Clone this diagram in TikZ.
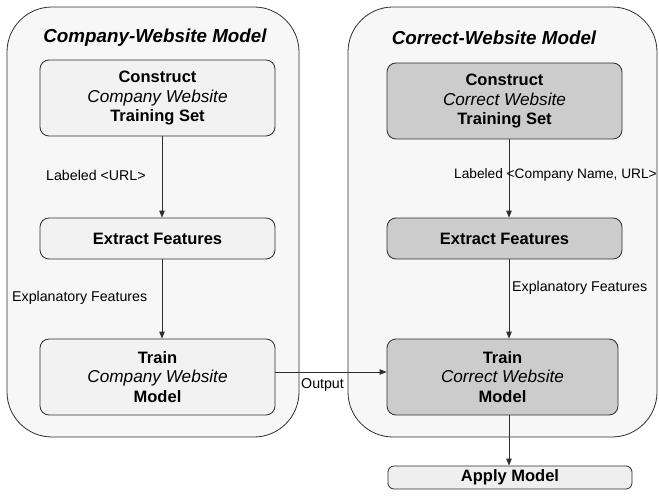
\documentclass[tikz,border=0pt]{standalone}
\usepackage{fontspec}
\setmainfont{Liberation Sans}
\usetikzlibrary{arrows.meta}
\definecolor{linec}{HTML}{2E2E2E}
\definecolor{contfill}{HTML}{F7F7F7}
\definecolor{lightbox}{HTML}{F2F2F2}
\definecolor{darkbox}{HTML}{CCCCCC}
\definecolor{applyfill}{HTML}{EFEFEF}
\newcommand{\itline}[1]{{\fontsize{17.2}{19.5}\selectfont\mdseries\itshape #1}}
\tikzset{
  container/.style={draw=linec, line width=0.8pt, fill=contfill, rounded corners=45pt},
  procbox/.style={draw=linec, line width=0.8pt, rounded corners=9pt, align=center,
    font=\fontsize{16.5}{19.5}\selectfont\bfseries, inner sep=0pt},
  lbox/.style={procbox, fill=lightbox},
  dbox/.style={procbox, fill=darkbox},
  arr/.style={draw=linec, line width=0.8pt, -{Triangle[length=7pt,width=5.5pt]}},
  lbl/.style={font=\fontsize{14.2}{16}\selectfont, inner sep=0pt, anchor=west, text=black},
  ttl/.style={font=\fontsize{18.8}{21}\selectfont\bfseries\itshape, inner sep=0pt}
}
\begin{document}
\begin{tikzpicture}[x=1pt,y=-1pt]
\useasboundingbox (0,0) rectangle (659,500);
% containers
\draw[container] (7,7) rectangle (299,437);
\draw[container] (348,7) rectangle (657,437);
\node[ttl] (tl) at (155,38) {Company-Website Model};
\node[ttl] (tr) at (494,38) {Correct-Website Model};
% left column
\node[lbox, minimum width=235pt, minimum height=76pt] (lb1) at (157.5,98)
  {Construct\\\itline{Company Website}\\Training Set};
\node[lbox, minimum width=235pt, minimum height=41pt] (lex) at (157.5,238.5) {Extract Features};
\node[lbox, minimum width=235pt, minimum height=76pt] (ltr) at (157.5,377)
  {Train\\\itline{Company Website}\\Model};
% right column
\node[dbox, minimum width=235pt, minimum height=76pt] (rb1) at (504.5,101)
  {Construct\\\itline{Correct Website}\\Training Set};
\node[dbox, minimum width=235pt, minimum height=41pt] (rex) at (504.5,238.5) {Extract Features};
\node[dbox, minimum width=231pt, minimum height=76pt] (rtr) at (502.5,377)
  {Train\\\itline{Correct Website}\\Model};
\node[procbox, fill=applyfill, rounded corners=6pt, minimum width=244pt, minimum height=23pt] (app) at (510,477.5) {Apply Model};
% arrow guide coordinates
\coordinate (axl) at (162,0);
\coordinate (axr) at (509,0);
\coordinate (oy) at (0,372);
\draw[arr] (lb1.south -| axl) -- (lex.north -| axl);
\draw[arr] (lex.south -| axl) -- (ltr.north -| axl);
\draw[arr] (rb1.south -| axr) -- (rex.north -| axr);
\draw[arr] (rex.south -| axr) -- (rtr.north -| axr);
\draw[arr] (rtr.south -| axr) -- (app.north -| axr);
\draw[arr] (ltr.east |- oy) -- (rtr.west |- oy);
% labels
\node[lbl] (l1) at (46,175) {Labeled <URL>};
\node[lbl, font=\fontsize{13.7}{16}\selectfont] (l2) at (454,175) {Labeled <Company Name, URL>};
\node[lbl] (l3) at (12,298) {Explanatory Features};
\node[lbl] (l4) at (512,288) {Explanatory Features};
\node[lbl] (l5) at (301,385) {Output};
\end{tikzpicture}
\end{document}
